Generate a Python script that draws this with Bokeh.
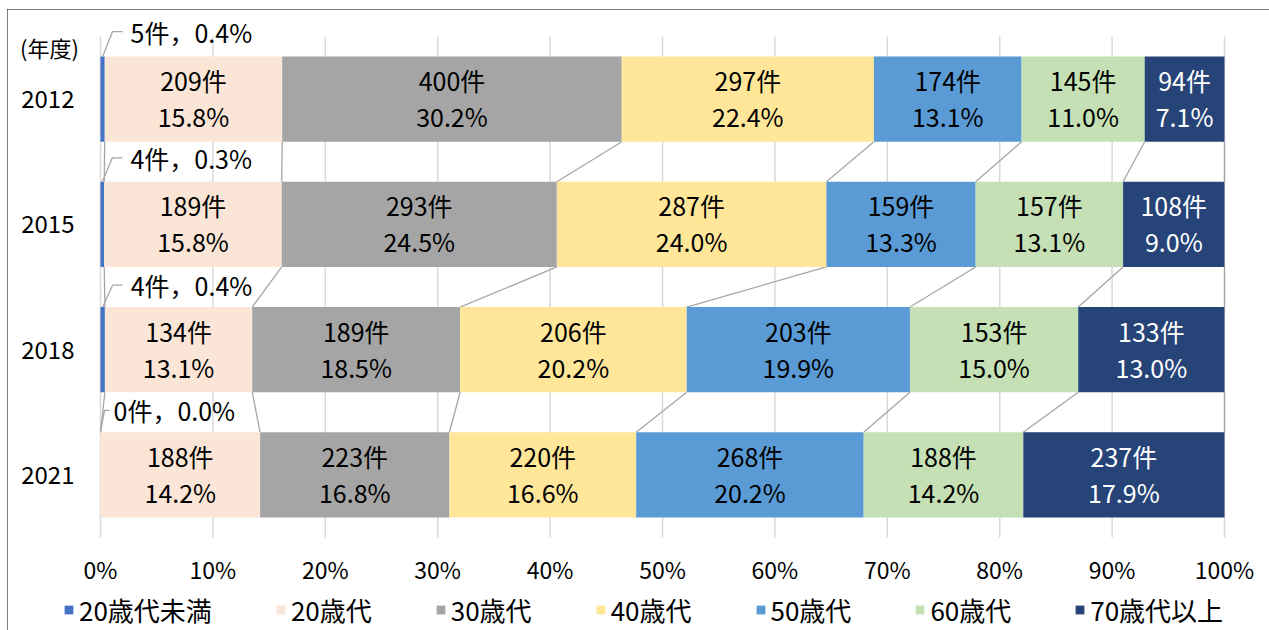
import pandas as pd
from bokeh.plotting import figure
from bokeh.models import (Range1d, FixedTicker, Legend, LegendItem, Label,
                          ColumnDataSource)
from bokeh.core.properties import value
from bokeh.embed import file_html
from bokeh.resources import INLINE

# ---------------- data ----------------
years = ["2012", "2015", "2018", "2021"]
groups = ["20歳代未満", "20歳代", "30歳代", "40歳代", "50歳代", "60歳代", "70歳代以上"]
counts_2012 = [5, 209, 400, 297, 174, 145, 94]
counts_2015 = [4, 189, 293, 287, 159, 157, 108]
counts_2018 = [4, 134, 189, 206, 203, 153, 133]
counts_2021 = [0, 188, 223, 220, 268, 188, 237]
pct_2012 = [0.4, 15.8, 30.2, 22.4, 13.1, 11.0, 7.1]
pct_2015 = [0.3, 15.8, 24.5, 24.0, 13.3, 13.1, 9.0]
pct_2018 = [0.4, 13.1, 18.5, 20.2, 19.9, 15.0, 13.0]
pct_2021 = [0.0, 14.2, 16.8, 16.6, 20.2, 14.2, 17.9]
x_tick_labels = ["0%", "10%", "20%", "30%", "40%", "50%", "60%", "70%", "80%", "90%", "100%"]
year_axis_title = "(年度)"

counts = [counts_2012, counts_2015, counts_2018, counts_2021]
pcts = [pct_2012, pct_2015, pct_2018, pct_2021]

# ---------------- style ----------------
colors = ["#4472C4", "#FBE5D6", "#A5A5A5", "#FFE699", "#5B9BD5", "#C5E0B4", "#264478"]
text_colors = ["#000000"] * 6 + ["#FFFFFF"]
FONT = "Noto Sans CJK JP"
BAR_H = 0.68
W, H = 1262, 621
PLOT_L, PLOT_W = 93, 1124       # canvas px of 0% and width of 0..100%
PLOT_T, BAND = 27, 125.25       # canvas px of top gridline, px per year band
PX = 1 / PLOT_W
PY = 1 / BAND

n = len(years)
ypos = [n - 0.5 - i for i in range(n)]  # 2012 on top

# shares / cumulative positions
df = pd.DataFrame(counts, columns=groups)
totals = df.sum(axis=1)
shares = df.div(totals, axis=0)
cum_end = shares.cumsum(axis=1)
cum_start = cum_end - shares

src_data = {g: shares[g].tolist() for g in groups}
src_data["y"] = ypos
src = ColumnDataSource(src_data)

y_top = n + PLOT_T * PY
y_bot = y_top - H * PY
p = figure(width=W, height=H, output_backend="svg", toolbar_location=None,
           x_range=Range1d(-PLOT_L * PX, (W - PLOT_L) * PX),
           y_range=Range1d(y_bot, y_top),
           min_border=0, min_border_left=0, min_border_right=0,
           min_border_top=0, min_border_bottom=0)
p.styles = {"outline": "1px solid #000", "outline-offset": "-1px",
            "margin-left": "7px", "margin-top": "9px"}
p.outline_line_color = None
p.xgrid.visible = False
p.ygrid.visible = False
p.background_fill_color = "#FFFFFF"
p.border_fill_color = "#FFFFFF"

# vertical gridlines (only over the category area)
ticks = [i / (len(x_tick_labels) - 1) for i in range(len(x_tick_labels))]
p.segment(x0=ticks, x1=ticks, y0=[0] * len(ticks), y1=[n] * len(ticks),
          line_color="#D9D9D9", line_width=1.5)

# series lines between bars
sx0, sx1, sy0, sy1 = [], [], [], []
for i in range(n - 1):
    for g in groups:
        sx0.append(cum_end[g].iloc[i])
        sx1.append(cum_end[g].iloc[i + 1])
        sy0.append(ypos[i] - BAR_H / 2)
        sy1.append(ypos[i + 1] + BAR_H / 2)
p.segment(x0=sx0, x1=sx1, y0=sy0, y1=sy1, line_color="#A6A6A6", line_width=1.3)

# stacked bars
rs = p.hbar_stack(groups, y="y", height=BAR_H, source=src,
                  fill_color=colors, line_color=None)

# in-bar labels
lx, ly1, ly2, t1, t2, tc = [], [], [], [], [], []
for i in range(n):
    for k, g in enumerate(groups):
        if k == 0:
            continue
        lx.append(cum_start[g].iloc[i] + shares[g].iloc[i] / 2)
        ly1.append(ypos[i] + 19 * PY)
        ly2.append(ypos[i] - 17 * PY)
        t1.append(f"{counts[i][k]}件")
        t2.append(f"{pcts[i][k]:.1f}%")
        tc.append(text_colors[k])
p.text(x=lx, y=ly1, text=t1, text_color=tc, text_align="center",
       text_baseline="middle", text_font=value(FONT), text_font_size="25px")
p.text(x=lx, y=ly2, text=t2, text_color=tc, text_align="center",
       text_baseline="middle", text_font=value(FONT), text_font_size="25px")

# small labels for the first group with leader lines
lead_dx = [(10, 10, 8), (10, 10, 8), (10, 10, 8), (4, 5, 4)]
lead_dy = [25, 24, 22, 22]
mxs, mys, stx, sty, stt = [], [], [], [], []
for i in range(n):
    g = groups[0]
    xa = cum_start[g].iloc[i] + shares[g].iloc[i] / 2
    ya = ypos[i] + BAR_H / 2
    yl = ya + lead_dy[i] * PY
    xb = xa + lead_dx[i][0] * PX
    xc = xb + lead_dx[i][1] * PX
    mxs.append([xa, xb, xc])
    mys.append([ya, yl, yl])
    stx.append(xc + lead_dx[i][2] * PX)
    sty.append(yl)
    stt.append(f"{counts[i][0]}件，{pcts[i][0]:.1f}%")
p.multi_line(xs=mxs, ys=mys, line_color="#A6A6A6", line_width=1.3)
p.text(x=stx, y=sty, text=stt, text_color="#000000", text_align="left",
       text_baseline="middle", text_font=value(FONT), text_font_size="25px")

# axes (fixed at the plot-area edges)
p.xaxis.fixed_location = 0
p.yaxis.fixed_location = 0
p.xaxis.ticker = FixedTicker(ticks=ticks)
p.xaxis.major_label_overrides = {t: l for t, l in zip(ticks, x_tick_labels)}
p.yaxis.ticker = FixedTicker(ticks=ypos)
p.yaxis.major_label_overrides = {y: s for y, s in zip(ypos, years)}
for ax in (p.xaxis[0], p.yaxis[0]):
    ax.axis_line_color = None
    ax.major_tick_line_color = None
    ax.minor_tick_line_color = None
    ax.major_tick_out = 0
    ax.major_tick_in = 0
    ax.major_label_text_font = FONT
    ax.major_label_text_color = "#000000"
p.xaxis.major_label_text_font_size = "23px"
p.xaxis.major_label_standoff = 14
p.yaxis.major_label_text_font_size = "24px"
p.yaxis.major_label_standoff = 26

# category axis title
p.add_layout(Label(x=-51 * PX, y=n - 10 * PY, text=year_axis_title,
                   text_align="center", text_baseline="middle",
                   text_font=FONT, text_font_size="22px", text_color="#000000"))

# legend
items = [LegendItem(label=g, renderers=[r]) for g, r in zip(groups, rs)]
legend = Legend(items=items, orientation="horizontal", location=(56, 2),
                padding=0, margin=0, spacing=63, glyph_width=11, glyph_height=11,
                label_standoff=5, label_text_font=FONT, label_text_font_size="26px",
                label_text_color="#000000", border_line_color=None,
                background_fill_alpha=0)
p.add_layout(legend)

open("out.html", "w").write(file_html(p, INLINE))
